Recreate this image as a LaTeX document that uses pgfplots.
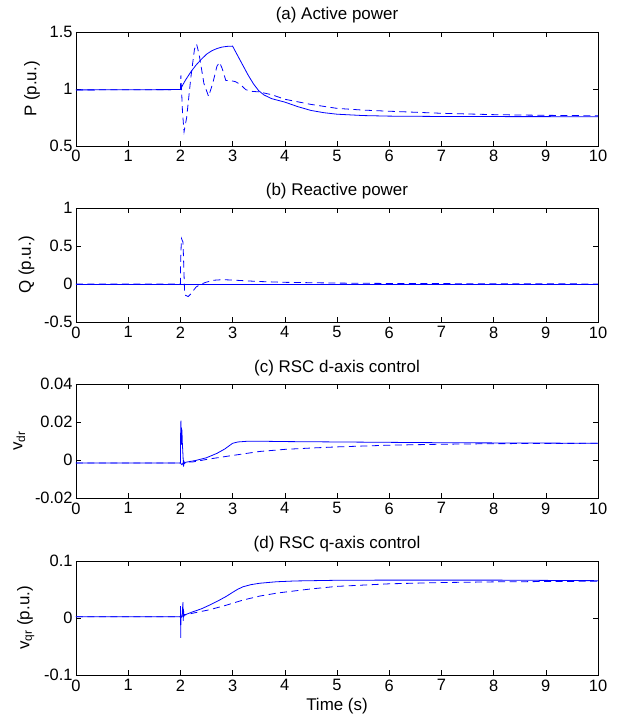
\documentclass[border=0pt]{standalone}
\usepackage{pgfplots}
\pgfplotsset{compat=1.18}
\usepackage{fontspec}
\setmainfont{Liberation Sans}
\definecolor{mblue}{RGB}{0,0,255}
\pgfplotsset{
  panel/.style={
    scale only axis, width=522bp, height=114bp,
    xmin=0, xmax=10, xtick={0,1,...,10},
    tick pos=both, tick align=inside, major tick length=5bp,
    axis line style={line width=0.6bp}, every tick/.style={line width=0.6bp, black},
    scaled y ticks=false,
    /pgf/number format/assume math mode=true,
    /pgf/number format/fixed, /pgf/number format/precision=2,
    tick label style={font=\fontsize{16.5}{18}\selectfont},
    label style={font=\fontsize{17}{19}\selectfont},
    ylabel style={yshift=3bp},
    title style={font=\fontsize{17}{19}\selectfont, yshift=-1bp},
    xticklabel style={yshift=-1bp},
  },
  sol/.style={mblue, line width=0.8bp},
  das/.style={mblue, line width=0.8bp, dash pattern=on 7bp off 4.5bp},
}
\begin{document}
\begin{tikzpicture}
% (a)
\begin{axis}[panel, at={(0bp,0bp)}, ymin=0.5, ymax=1.5, ytick={0.5,1,1.5},
  title={(a) Active power}, ylabel={P (p.u.)}]
\addplot[sol] coordinates {(0,0.992) (2.0,0.995) (2.05,1.04) (2.1,1.08) (2.2,1.15) (2.3,1.21) (2.4,1.26) (2.5,1.305) (2.6,1.335) (2.7,1.355) (2.8,1.368) (2.9,1.374) (3.0,1.376)
 (3.1,1.29) (3.2,1.205) (3.3,1.12) (3.4,1.045) (3.5,0.985) (3.6,0.948) (3.75,0.915) (4.0,0.885) (4.25,0.845) (4.5,0.812) (4.75,0.792) (5.0,0.779) (5.5,0.767) (6,0.762) (7,0.759) (8,0.758) (10,0.757)};
\addplot[das] coordinates {(0,0.992) (2.0,0.995) (2.01,1.12) (2.04,0.8) (2.07,0.625) (2.12,0.75) (2.2,1.1) (2.27,1.35) (2.31,1.395) (2.36,1.3) (2.45,1.05) (2.54,0.935) (2.62,1.05) (2.7,1.2) (2.75,1.234) (2.8,1.18) (2.87,1.075) (2.95,1.075) (3.05,1.065) (3.15,1.04) (3.25,0.995) (3.35,0.98) (3.5,0.975) (3.75,0.95) (4.0,0.91) (4.5,0.865) (5.0,0.83) (5.5,0.815) (6.0,0.805) (7,0.787) (8,0.775) (9,0.769) (10,0.765)};
\end{axis}
% (b)
\begin{axis}[panel, at={(0bp,-176bp)}, ymin=-0.5, ymax=1, ytick={-0.5,0,0.5,1},
  title={(b) Reactive power}, ylabel={Q (p.u.)}]
\addplot[sol] coordinates {(0,0) (10,0)};
\addplot[das] coordinates {(0,0) (2.0,0) (2.005,0.3) (2.02,0.6) (2.05,0.55) (2.08,-0.1) (2.1,-0.15) (2.15,-0.165) (2.2,-0.13) (2.3,-0.04) (2.4,0.0) (2.5,0.025) (2.65,0.05) (2.8,0.057) (3.0,0.052) (3.25,0.042) (3.5,0.033) (4.0,0.022) (5.0,0.012) (6.0,0.007) (8,0.003) (10,0.001)};
\end{axis}
% (c)
\begin{axis}[panel, at={(0bp,-352bp)}, ymin=-0.02, ymax=0.04, ytick={-0.02,0,0.02,0.04},
  title={(c) RSC d-axis control}, ylabel={v$_{\mathrm{dr}}$}]
\addplot[sol] coordinates {(0,-0.0016) (2.0,-0.0016) (2.005,0.015) (2.01,0.0207) (2.015,0.008) (2.02,0.017) (2.025,0.011) (2.03,0.016) (2.035,0.01) (2.045,0.005) (2.06,-0.0035) (2.07,-0.001) (2.08,-0.0018) (2.1,-0.0012) (2.3,-0.0002) (2.5,0.0012) (2.7,0.0035) (2.85,0.0058) (3.0,0.0088) (3.1,0.0095) (3.3,0.0099) (3.5,0.0099) (4,0.0097) (5,0.0095) (6,0.0093) (7,0.0091) (8,0.009) (10,0.0088)};
\addplot[das] coordinates {(0,-0.0016) (2.0,-0.0016) (2.03,-0.0025) (2.06,-0.0012) (2.24,-0.001) (2.5,0.0003) (2.88,0.0019) (3.2,0.0032) (3.52,0.0045) (4,0.0056) (4.5,0.0063) (5,0.0069) (6,0.0078) (7,0.0083) (8,0.0086) (9,0.0087) (10,0.0088)};
\end{axis}
% (d)
\begin{axis}[panel, at={(0bp,-529bp)}, ymin=-0.1, ymax=0.1, ytick={-0.1,0,0.1},
  title={(d) RSC q-axis control}, ylabel={v$_{\mathrm{qr}}$ (p.u.)}, xlabel={Time (s)}]
\addplot[sol] coordinates {(0,0.0023) (2.0,0.0023) (2.003,0.021) (2.006,-0.035) (2.01,0.0) (2.03,0.003) (2.05,0.028) (2.055,-0.005) (2.06,0.015) (2.065,0.003) (2.08,0.006) (2.1,0.006) (2.24,0.011) (2.4,0.016) (2.56,0.0227) (2.72,0.030) (2.88,0.038) (3.0,0.045) (3.1,0.0505) (3.2,0.0548) (3.35,0.0585) (3.52,0.061) (3.84,0.0636) (4.2,0.065) (5,0.0662) (6,0.0665) (8,0.0665) (10,0.0655)};
\addplot[das] coordinates {(0,0.0023) (2.0,0.0023) (2.08,0.005) (2.24,0.0085) (2.56,0.0145) (2.88,0.0225) (3.2,0.0315) (3.52,0.0385) (3.87,0.044) (4.5,0.051) (5,0.0555) (6,0.060) (7,0.0622) (8,0.0634) (9,0.064) (10,0.0645)};
\end{axis}
\pgfresetboundingbox
\path[use as bounding box] (-76bp,-579bp) rectangle (544bp,146bp);
\end{tikzpicture}
\end{document}
